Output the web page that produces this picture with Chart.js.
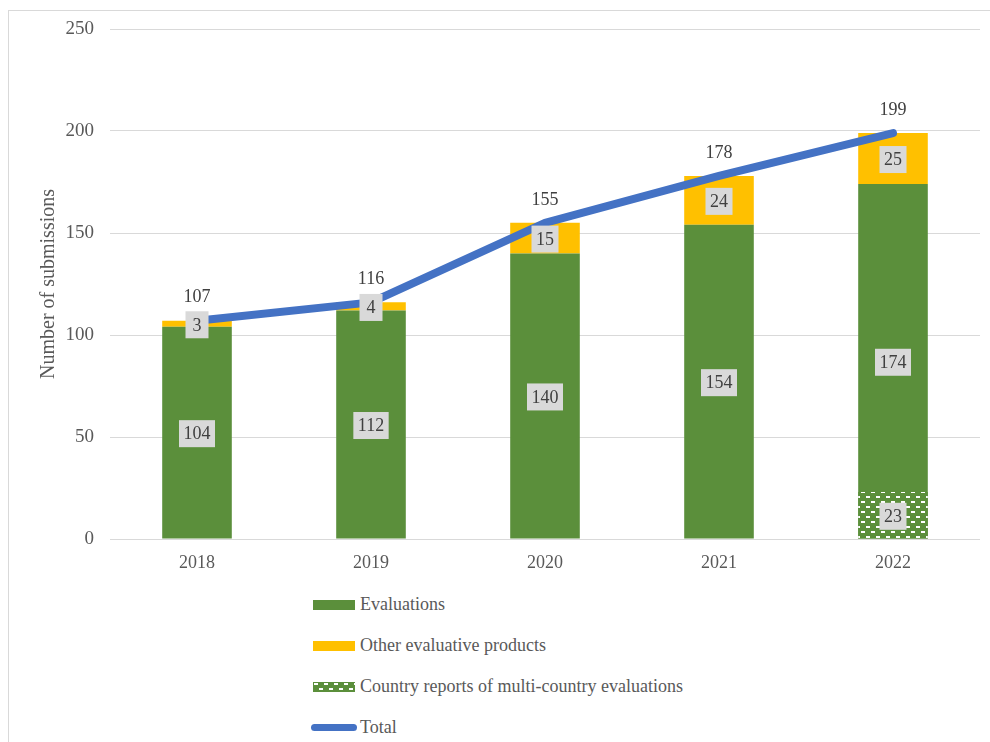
<!DOCTYPE html>
<html>
<head>
<meta charset="utf-8">
<script src="https://cdn.jsdelivr.net/npm/chart.js@4.4.0/dist/chart.umd.min.js"></script>
<style>
  html, body { margin: 0; padding: 0; background: #fff; overflow: hidden; }
  #wrap { position: relative; width: 990px; height: 742px; }
  #frame { position: absolute; left: 8px; top: 10px; width: 1000px; height: 800px; border: 1px solid #d9d9d9; }
  #chart { position: absolute; left: 0; top: 0; }
  #legend { position: absolute; left: 311px; top: 584px; font-family: "Liberation Serif", "Times New Roman", serif; font-size: 18px; color: #595959; }
  .item { height: 41px; display: flex; align-items: center; }
  .sw { width: 42px; height: 10px; margin: 0 5px 0 2px; }
  .sw.line { width: 46px; height: 7px; border-radius: 4px; margin: 0 3px 0 0; }
</style>
</head>
<body>
<div id="wrap">
  <div id="frame"></div>
  <canvas id="chart" width="990" height="579"></canvas>
  <div id="legend"></div>
</div>
<script>
// Submissions per year
const years = ["2018", "2019", "2020", "2021", "2022"];
const evaluations = [104, 112, 140, 154, 174];
const otherProducts = [3, 4, 15, 24, 25];
const countryReports = [null, null, null, null, 23];
const totals = [107, 116, 155, 178, 199];

const GREEN = "#5b8f3b";
const YELLOW = "#ffc000";
const BLUE = "#4472c4";
const FONT = "'Liberation Serif', 'Times New Roman', serif";

// green tile with small white dashes for the country reports
function makePattern() {
  const c = document.createElement("canvas");
  c.width = 10; c.height = 10;
  const g = c.getContext("2d");
  g.fillStyle = GREEN;
  g.fillRect(0, 0, 10, 10);
  g.fillStyle = "#ffffff";
  g.fillRect(1, 1, 4, 2);
  g.fillRect(6, 6, 4, 2);
  return c;
}
const patternTile = makePattern();
const ctx = document.getElementById("chart").getContext("2d");
const hatch = ctx.createPattern(patternTile, "repeat");

// grey value boxes inside bars, plain totals above the line
const valueLabels = {
  id: "valueLabels",
  afterDatasetsDraw(chart) {
    const c = chart.ctx;
    c.save();
    c.font = "18px " + FONT;
    c.textAlign = "center";
    c.textBaseline = "middle";
    chart.data.datasets.forEach((ds, di) => {
      const meta = chart.getDatasetMeta(di);
      meta.data.forEach((el, i) => {
        const v = ds.data[i];
        if (v == null) return;
        const txt = String(v);
        if (ds.type === "line") {
          c.fillStyle = "#404040";
          c.fillText(txt, el.x, el.y - 23);
          return;
        }
        const cy = (el.y + el.base) / 2 + 1;
        const w = Math.max(c.measureText(txt).width + 9, 23);
        const h = 27;
        c.fillStyle = "#d9d9d9";
        c.fillRect(el.x - w / 2, cy - h / 2, w, h);
        c.fillStyle = "#404040";
        c.fillText(txt, el.x, cy + 1);
      });
    });
    c.restore();
  }
};

const chart = new Chart(ctx, {
  data: {
    labels: years,
    datasets: [
      {
        type: "bar",
        label: "Evaluations",
        data: evaluations,
        backgroundColor: GREEN,
        stack: "a"
      },
      {
        type: "bar",
        label: "Other evaluative products",
        data: otherProducts,
        backgroundColor: YELLOW,
        stack: "a"
      },
      {
        type: "bar",
        label: "Country reports of multi-country evaluations",
        data: countryReports,
        backgroundColor: hatch,
        stack: "c",
        grouped: false,
        order: -0.5
      },
      {
        type: "line",
        label: "Total",
        data: totals,
        borderColor: BLUE,
        borderWidth: 8,
        borderCapStyle: "round",
        borderJoinStyle: "round",
        pointRadius: 0,
        tension: 0,
        stack: "total",
        order: -1
      }
    ]
  },
  options: {
    responsive: false,
    animation: false,
    devicePixelRatio: 1,
    datasets: {
      bar: { barPercentage: 0.4, categoryPercentage: 1 }
    },
    layout: { padding: { top: 29, right: 10, left: 0, bottom: 0 } },
    scales: {
      x: {
        stacked: true,
        grid: { display: false, drawTicks: false },
        border: { display: false },
        ticks: { color: "#595959", font: { family: FONT, size: 18 }, padding: 13 },
        afterFit(scale) { scale.height = 40; }
      },
      y: {
        stacked: true,
        min: 0,
        max: 250,
        ticks: { stepSize: 50, color: "#595959", font: { family: FONT, size: 19 }, padding: 16 },
        grid: { color: "#d9d9d9", lineWidth: 1, drawTicks: false },
        border: { display: false },
        title: {
          display: true,
          text: "Number of submissions",
          color: "#595959",
          font: { family: FONT, size: 20 },
          padding: { top: 37, bottom: 0 }
        },
        afterFit(scale) { scale.width = 110; }
      }
    },
    plugins: {
      legend: { display: false },
      tooltip: { enabled: false }
    }
  },
  plugins: [valueLabels]
});

// legend below the plot, one entry per row
const legendEl = document.getElementById("legend");
chart.data.datasets.forEach(ds => {
  const row = document.createElement("div");
  row.className = "item";
  const sw = document.createElement("span");
  sw.className = "sw";
  if (ds.type === "line") {
    sw.classList.add("line");
    sw.style.background = ds.borderColor;
  } else if (ds.backgroundColor === hatch) {
    sw.style.backgroundImage = "url(" + patternTile.toDataURL() + ")";
  } else {
    sw.style.background = ds.backgroundColor;
  }
  const label = document.createElement("span");
  label.textContent = ds.label;
  row.appendChild(sw);
  row.appendChild(label);
  legendEl.appendChild(row);
});
</script>
</body>
</html>
